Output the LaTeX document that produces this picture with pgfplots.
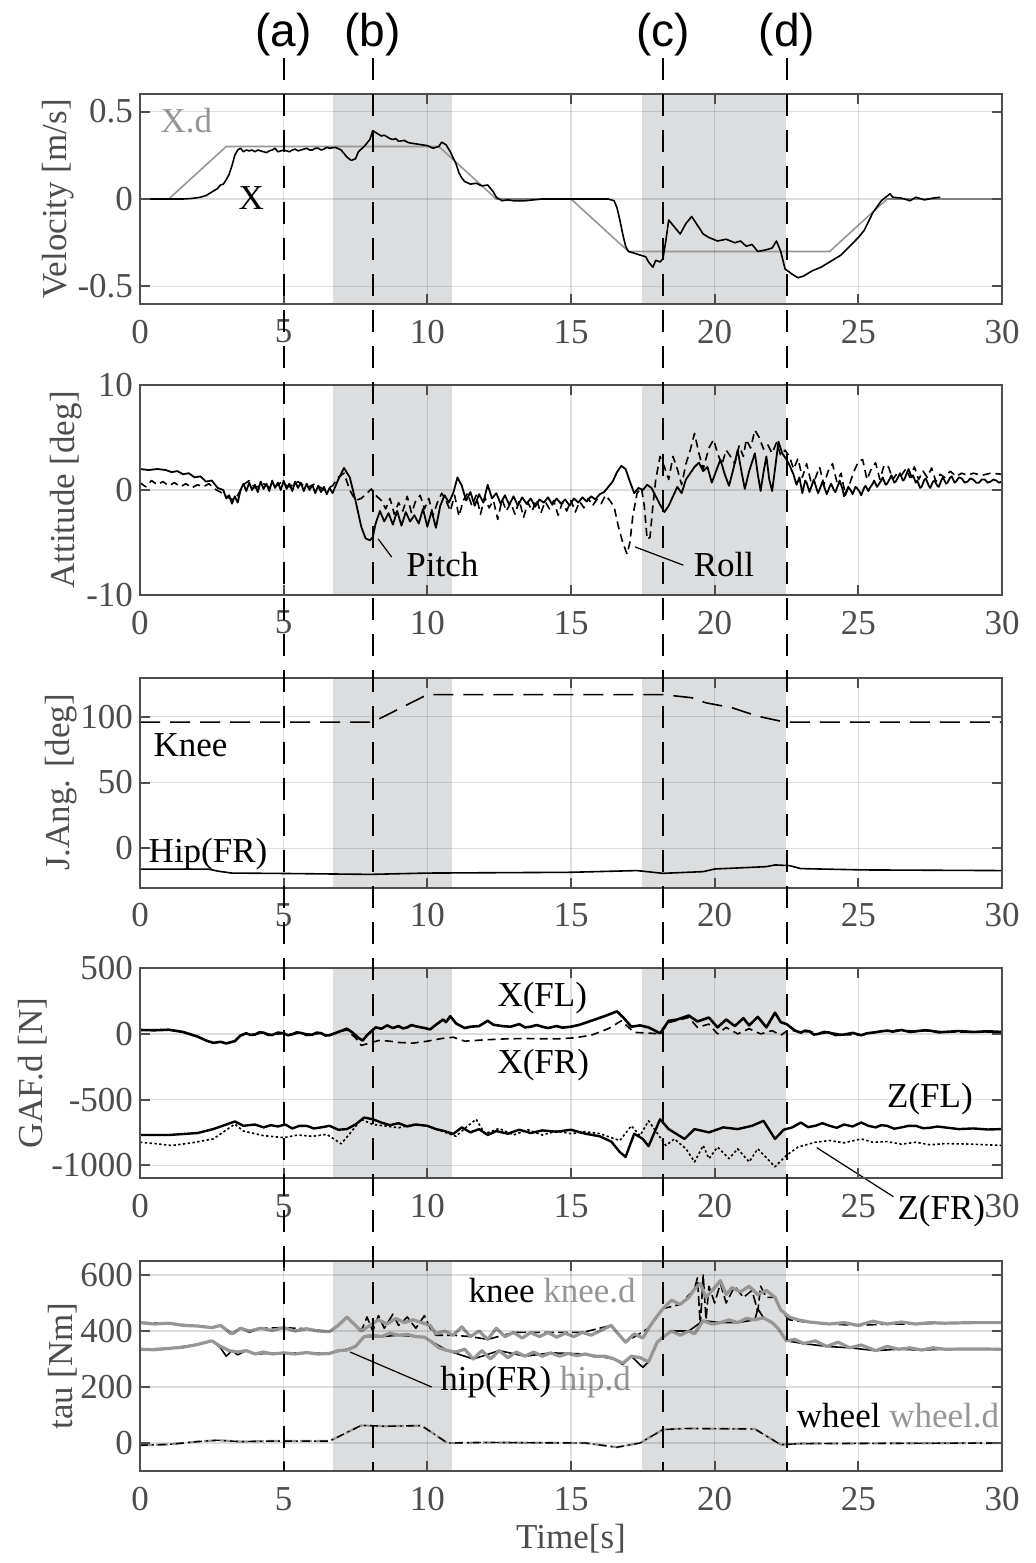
\documentclass[border=0pt]{standalone}
\usepackage{fontspec}
\setmainfont{Liberation Serif}
\newfontfamily\arialf{Liberation Sans}
\usepackage{pgfplots}
\pgfplotsset{compat=1.18}
\definecolor{axcol}{RGB}{77,77,77}
\definecolor{shadec}{RGB}{220,221,223}
\definecolor{lgray}{RGB}{150,150,150}
\newcommand{\fs}{\fontsize{17.5}{21}\selectfont}
\pgfplotsset{myax/.style={
 width=431pt, height=105pt, scale only axis, anchor=north west,
 xmin=0, xmax=30, xtick={0,5,...,30}, xticklabels={0,5,10,15,20,25,30},
 grid=major, major grid style={draw=black, opacity=0.13, line width=0.6pt},
 axis line style={draw=axcol, line width=1pt},
 tick style={draw=axcol, line width=1pt},
 major tick length=5pt, tick align=inside,
 tick label style={font=\fs, text=axcol},
 xticklabel style={yshift=-4.5pt},
 label style={font=\fs, text=axcol},
 ylabel shift=-5pt,
 axis on top, clip mode=individual,
 every axis plot/.append style={line join=round},
}}
\tikzset{dl/.style={black, line width=0.8pt},
ann/.style={font=\fs, text=black, inner sep=0pt}}
\begin{document}
\begin{tikzpicture}
\path[use as bounding box] (0,0) rectangle (517.5pt,-781.5pt);
% ---------------- Velocity
\begin{axis}[myax, at={(70pt,-47pt)}, ymin=-0.6, ymax=0.6, ytick={-0.5,0,0.5}, yticklabels={-0.5,0,0.5}, ylabel={Velocity [m/s]}]
\addplot[draw=none, fill=shadec, forget plot] coordinates {(6.72,-0.6)(6.72,0.6)(10.85,0.6)(10.85,-0.6)} -- cycle;
\addplot[draw=none, fill=shadec, forget plot] coordinates {(17.46,-0.6)(17.46,0.6)(22.47,0.6)(22.47,-0.6)} -- cycle;
\addplot[lgray, line width=0.8pt] coordinates {(0,0)(1,0)(3,0.3)(10.4,0.3)(12.4,0)(15,0)(17,-0.3)(24,-0.3)(26,0)(30,0)};
\addplot[dl] coordinates {(0,0)(1.5,0)(1.8,0.003)(2.1,0.01)(2.3,0.02)(2.5,0.04)(2.6,0.05)(2.7,0.06)(2.8,0.08)(2.9,0.085)(3.0,0.11)(3.1,0.14)(3.2,0.19)(3.3,0.25)(3.4,0.28)(3.5,0.29)(3.6,0.27)(3.7,0.28)(3.8,0.275)(3.9,0.28)(4.0,0.27)(4.1,0.28)(4.2,0.275)(4.3,0.27)(4.4,0.265)(4.5,0.275)(4.6,0.28)(4.7,0.29)(4.8,0.27)(4.9,0.275)(5.0,0.28)(5.1,0.275)(5.2,0.27)(5.3,0.28)(5.4,0.285)(5.5,0.275)(5.6,0.28)(5.7,0.285)(5.8,0.29)(5.9,0.28)(6.0,0.28)(6.1,0.29)(6.2,0.29)(6.3,0.28)(6.4,0.285)(6.5,0.295)(6.6,0.29)(6.8,0.295)(7.0,0.28)(7.2,0.24)(7.35,0.22)(7.5,0.23)(7.6,0.27)(7.8,0.30)(8.0,0.34)(8.1,0.39)(8.2,0.38)(8.3,0.37)(8.4,0.36)(8.5,0.365)(8.6,0.355)(8.7,0.345)(8.8,0.34)(8.9,0.345)(9.0,0.33)(9.2,0.335)(9.3,0.325)(9.4,0.32)(9.6,0.315)(9.8,0.31)(10.0,0.305)(10.2,0.29)(10.4,0.30)(10.5,0.325)(10.65,0.31)(10.8,0.27)(11.0,0.20)(11.1,0.15)(11.2,0.12)(11.3,0.10)(11.5,0.085)(11.7,0.09)(11.9,0.075)(12.1,0.08)(12.3,0.04)(12.4,0.01)(12.6,-0.01)(12.8,-0.005)(13.0,-0.01)(13.4,-0.01)(14,0)(16.3,0)(16.5,-0.01)(16.6,-0.05)(16.7,-0.12)(16.8,-0.2)(16.9,-0.27)(17.0,-0.3)(17.2,-0.31)(17.4,-0.32)(17.6,-0.33)(17.7,-0.36)(17.85,-0.39)(17.95,-0.35)(18.1,-0.36)(18.2,-0.34)(18.3,-0.24)(18.4,-0.12)(18.6,-0.16)(18.8,-0.2)(19.0,-0.14)(19.2,-0.1)(19.4,-0.15)(19.6,-0.2)(19.8,-0.22)(20.1,-0.24)(20.4,-0.23)(20.7,-0.25)(20.9,-0.24)(21.1,-0.27)(21.3,-0.26)(21.5,-0.3)(21.8,-0.29)(22.0,-0.28)(22.15,-0.24)(22.3,-0.3)(22.45,-0.4)(22.7,-0.43)(22.9,-0.45)(23.1,-0.44)(23.4,-0.41)(23.7,-0.39)(24.1,-0.35)(24.4,-0.32)(24.7,-0.27)(25.0,-0.22)(25.2,-0.18)(25.5,-0.08)(25.8,-0.01)(26.1,0.03)(26.2,0.01)(26.5,0.005)(26.8,-0.01)(27.0,0.01)(27.3,-0.005)(27.6,0.005)(27.85,0.01)};
\node[ann, text=lgray, anchor=base west] at (axis cs:0.70,0.378) {X.d};
\node[ann, anchor=base west] at (axis cs:3.42,-0.059) {X};
\coordinate (Ta) at (axis cs:5,0.6);
\coordinate (Tb) at (axis cs:8.1,0.6);
\coordinate (Tc) at (axis cs:18.2,0.6);
\coordinate (Td) at (axis cs:22.52,0.6);
\end{axis}
% ---------------- Attitude
\begin{axis}[myax, at={(70pt,-192.5pt)}, ymin=-10, ymax=10, ytick={-10,0,10}, yticklabels={-10,0,10}, ylabel={Attitude [deg]}]
\addplot[draw=none, fill=shadec, forget plot] coordinates {(6.72,-10)(6.72,10)(10.85,10)(10.85,-10)} -- cycle;
\addplot[draw=none, fill=shadec, forget plot] coordinates {(17.46,-10)(17.46,10)(22.47,10)(22.47,-10)} -- cycle;
\addplot[black, line width=0.8pt, dash pattern=on 4pt off 2.5pt] coordinates {(0,0.7)(0.2,0.3)(0.4,0.9)(0.6,0.5)(0.8,0.8)(1.0,0.4)(1.2,0.7)(1.4,0.3)(1.6,0.6)(1.8,0.2)(2.0,0.5)(2.2,0.3)(2.4,0.6)(2.6,0.1)(2.8,-0.2)(3.0,-0.6)(3.2,-0.9)(3.4,-0.5)(3.6,0.5)(3.8,0.9)(4.0,0.2)(4.3,0.6)(4.6,0.1)(4.9,0.7)(5.2,0.3)(5.5,0.8)(5.8,0.2)(6.1,0.6)(6.4,0.0)(6.7,0.4)(6.9,1.2)(7.1,1.6)(7.3,0.0)(7.5,-1.0)(7.7,-0.8)(7.9,-0.3)(8.05,0.1)(8.2,-0.5)(8.4,-1.0)(8.55,-1.8)(8.7,-0.8)(8.85,-2.3)(9.0,-1.2)(9.15,-2.0)(9.3,-0.6)(9.45,-2.2)(9.6,-1.0)(9.75,-0.5)(9.9,-1.8)(10.05,-0.8)(10.2,-2.4)(10.35,-1.2)(10.5,-0.3)(10.65,-1.0)(10.8,-2.0)(10.95,-0.5)(11.1,-2.5)(11.25,-1.0)(11.4,-0.3)(11.55,-1.5)(11.7,-0.5)(11.85,-2.3)(12.0,-0.7)(12.15,-1.7)(12.3,-1.0)(12.45,-2.8)(12.6,-0.9)(12.75,-2.0)(12.9,-1.2)(13.05,-2.3)(13.2,-1.0)(13.35,-2.6)(13.5,-1.2)(13.65,-2.0)(13.8,-0.9)(13.95,-2.2)(14.1,-1.1)(14.25,-1.8)(14.4,-1.0)(14.55,-2.4)(14.7,-1.2)(14.85,-2.0)(15.0,-1.0)(15.15,-2.1)(15.3,-1.1)(15.45,-1.7)(15.6,-0.8)(15.75,-1.5)(15.9,-0.9)(16.05,-1.3)(16.2,-0.5)(16.35,-1.0)(16.5,-1.6)(16.65,-3.5)(16.8,-5.0)(16.95,-6.1)(17.05,-5.0)(17.15,-2.5)(17.3,-0.3)(17.45,0.2)(17.55,-1.5)(17.65,-4.7)(17.75,-4.5)(17.85,-1.5)(17.95,1.0)(18.1,3.2)(18.25,2.2)(18.4,1.0)(18.55,3.2)(18.7,2.0)(18.85,0.5)(19.0,2.5)(19.15,3.8)(19.3,5.4)(19.45,3.5)(19.6,2.0)(19.8,4.0)(19.96,4.8)(20.1,3.5)(20.25,2.4)(20.4,3.8)(20.55,3.2)(20.7,2.5)(20.85,4.2)(21.0,3.2)(21.1,4.8)(21.25,4.0)(21.4,5.7)(21.55,5.0)(21.7,3.9)(21.85,4.3)(22.0,3.5)(22.15,4.5)(22.3,3.3)(22.45,3.8)(22.6,3.2)(22.75,2.0)(22.9,3.0)(23.05,1.2)(23.2,2.5)(23.35,0.8)(23.5,1.1)(23.65,2.2)(23.8,0.5)(23.95,1.8)(24.1,2.5)(24.25,0.8)(24.4,1.6)(24.55,-0.5)(24.7,0.6)(24.85,1.8)(25.0,2.7)(25.15,2.9)(25.3,1.0)(25.45,2.0)(25.6,2.6)(25.75,1.0)(25.9,2.4)(26.05,2.2)(26.2,1.0)(26.35,1.6)(26.5,1.4)(26.65,2.0)(26.8,1.2)(26.95,2.2)(27.1,1.0)(27.25,1.8)(27.4,1.2)(27.55,2.1)(27.7,0.8)(27.85,1.5)(28.0,1.2)(28.2,1.8)(28.4,1.3)(28.6,1.6)(28.8,1.4)(29.0,1.6)(29.3,1.4)(29.6,1.6)(30,1.5)};
\addplot[dl, line width=0.9pt] coordinates {(0,2.0)(0.3,1.9)(0.6,2.0)(0.9,1.9)(1.1,1.7)(1.3,1.8)(1.5,1.5)(1.7,1.6)(1.9,1.2)(2.1,1.3)(2.3,0.8)(2.5,0.9)(2.7,0.2)(2.9,0.0)(3.0,-0.8)(3.1,-0.5)(3.2,-1.3)(3.3,-0.6)(3.4,-1.2)(3.5,0.0)(3.6,0.6)(3.7,-0.1)(3.8,0.7)(3.9,0.0)(4.0,0.5)(4.1,-0.2)(4.2,0.8)(4.3,0.1)(4.4,0.6)(4.5,-0.1)(4.6,0.9)(4.7,0.2)(4.8,0.7)(4.9,0.0)(5.0,0.9)(5.1,0.1)(5.2,0.6)(5.3,-0.1)(5.4,0.8)(5.5,0.2)(5.6,0.7)(5.7,-0.1)(5.8,0.6)(5.9,0.0)(6.0,0.5)(6.1,-0.3)(6.2,0.4)(6.3,-0.2)(6.4,0.3)(6.5,-0.4)(6.6,0.2)(6.7,-0.3)(6.9,1.0)(7.1,2.1)(7.3,1.2)(7.5,-1.0)(7.7,-3.5)(7.85,-4.6)(8.0,-4.8)(8.1,-4.5)(8.2,-3.2)(8.35,-2.0)(8.5,-3.0)(8.65,-2.2)(8.8,-3.3)(8.95,-2.0)(9.1,-3.4)(9.25,-2.1)(9.4,-3.0)(9.55,-2.4)(9.7,-3.2)(9.85,-1.8)(10.0,-3.5)(10.15,-2.0)(10.3,-3.6)(10.45,-1.5)(10.6,-0.5)(10.75,-1.2)(10.9,-0.3)(11.05,1.2)(11.2,0.4)(11.35,-1.0)(11.5,-0.2)(11.65,-1.5)(11.8,-0.4)(11.95,-1.2)(12.1,0.5)(12.25,-0.8)(12.4,-0.3)(12.55,-1.3)(12.7,-0.5)(12.85,-1.4)(13.0,-0.6)(13.15,-1.5)(13.3,-0.7)(13.45,-1.3)(13.6,-0.8)(13.75,-1.6)(13.9,-0.9)(14.05,-1.2)(14.2,-0.7)(14.35,-1.4)(14.5,-0.8)(14.65,-1.3)(14.8,-0.9)(14.95,-1.5)(15.1,-0.8)(15.25,-1.2)(15.4,-0.7)(15.55,-1.1)(15.7,-0.6)(15.85,-0.9)(16.0,-0.4)(16.15,-0.2)(16.3,0.3)(16.45,0.8)(16.6,1.7)(16.75,2.3)(16.9,2.0)(17.05,0.8)(17.2,-0.3)(17.35,0.2)(17.5,0.0)(17.65,0.5)(17.8,0.2)(17.95,-0.6)(18.1,-1.4)(18.25,-2.1)(18.4,-1.5)(18.55,-0.6)(18.7,0.3)(18.85,-0.3)(19.0,1.0)(19.15,1.6)(19.3,2.2)(19.45,2.6)(19.6,1.8)(19.75,2.2)(19.9,0.7)(20.05,1.8)(20.2,2.9)(20.35,1.5)(20.5,0.4)(20.65,2.0)(20.8,3.8)(20.95,1.5)(21.05,0.1)(21.2,1.8)(21.4,3.5)(21.5,1.5)(21.6,-0.1)(21.7,1.7)(21.8,3.2)(21.9,1.0)(22.0,-0.1)(22.1,2.0)(22.22,4.6)(22.35,3.5)(22.5,2.9)(22.6,2.4)(22.74,1.5)(22.85,0.5)(22.95,1.2)(23.05,-0.3)(23.15,0.9)(23.2,0.7)(23.3,-0.2)(23.4,0.6)(23.45,1.0)(23.55,0.1)(23.6,-0.3)(23.7,0.4)(23.75,0.8)(23.85,0.0)(23.9,-0.4)(24.0,0.3)(24.05,0.6)(24.15,0.0)(24.2,-0.2)(24.3,0.5)(24.35,0.9)(24.45,0.1)(24.5,-0.6)(24.6,0.0)(24.65,0.3)(24.75,-0.1)(24.8,-0.4)(24.9,0.3)(24.95,0.2)(25.05,-0.2)(25.1,-0.5)(25.2,0.2)(25.25,0.4)(25.35,-0.1)(25.4,0.2)(25.5,0.6)(25.55,0.9)(25.65,0.3)(25.7,0.5)(25.8,0.9)(25.85,1.2)(25.95,0.5)(26.0,0.6)(26.1,1.1)(26.15,1.4)(26.25,0.7)(26.3,0.8)(26.4,1.3)(26.45,1.6)(26.55,0.9)(26.6,1.0)(26.7,1.7)(26.75,2.0)(26.85,1.2)(26.9,1.4)(27.0,0.7)(27.05,0.9)(27.15,0.2)(27.2,0.3)(27.3,1.0)(27.35,1.1)(27.45,0.4)(27.5,0.2)(27.6,0.8)(27.65,0.9)(27.75,0.4)(27.8,0.3)(27.9,1.0)(27.95,1.2)(28.05,0.6)(28.1,0.7)(28.2,1.2)(28.25,1.3)(28.35,0.7)(28.4,0.8)(28.5,1.2)(28.6,1.1)(28.7,0.7)(28.8,0.8)(28.9,1.1)(29.0,1.0)(29.1,0.7)(29.2,0.7)(29.3,1.0)(29.4,1.0)(29.5,0.7)(29.6,0.8)(29.7,1.0)(29.8,0.9)(29.9,0.7)(30,0.8)};
\draw[black, line width=0.6pt] (axis cs:8.29,-4.66) -- (axis cs:8.76,-6.39);
\draw[black, line width=0.6pt] (axis cs:17.23,-5.42) -- (axis cs:18.91,-7.16);
\node[ann, anchor=base west] at (axis cs:9.26,-8.28) {Pitch};
\node[ann, anchor=base west] at (axis cs:19.26,-8.28) {Roll};
\end{axis}
% ---------------- J.Ang
\begin{axis}[myax, at={(70pt,-338.75pt)}, ymin=-30, ymax=130, ytick={0,50,100}, yticklabels={0,50,100}, ylabel={J.Ang. [deg]}]
\addplot[draw=none, fill=shadec, forget plot] coordinates {(6.72,-30)(6.72,130)(10.85,130)(10.85,-30)} -- cycle;
\addplot[draw=none, fill=shadec, forget plot] coordinates {(17.46,-30)(17.46,130)(22.47,130)(22.47,-30)} -- cycle;
\addplot[black, line width=0.8pt, dash pattern=on 10pt off 5pt] coordinates {(0,96)(8.1,96)(10,117)(18.2,117)(19.2,114.6)(19.7,110.7)(20.6,107)(21.5,100.5)(22.3,96.7)(22.5,96)(30,96)};
\addplot[dl] coordinates {(0,-16)(2.4,-16)(2.7,-17.5)(3.2,-19)(5,-19.3)(8,-20)(10,-19)(15,-18.4)(17.3,-17.1)(18.2,-19.2)(19.6,-17.9)(20,-15.9)(21.8,-14.1)(22.1,-12.8)(22.6,-13.3)(23,-15.6)(25.2,-16.6)(30,-17.1)};
\node[ann, anchor=base west] at (axis cs:0.46,69.8) {Knee};
\node[ann, anchor=base west] at (axis cs:0.29,-10.7) {Hip(FR)};
\end{axis}
% ---------------- GAF
\begin{axis}[myax, at={(70pt,-484.15pt)}, ymin=-1100, ymax=500, ytick={-1000,-500,0,500}, yticklabels={-1000,-500,0,500}, ylabel={GAF.d [N]}]
\addplot[draw=none, fill=shadec, forget plot] coordinates {(6.72,-1100)(6.72,500)(10.85,500)(10.85,-1100)} -- cycle;
\addplot[draw=none, fill=shadec, forget plot] coordinates {(17.46,-1100)(17.46,500)(22.47,500)(22.47,-1100)} -- cycle;
\addplot[black, line width=0.8pt, dash pattern=on 4pt off 2.5pt] coordinates {(0,30)(0.5,28)(1.0,32)(1.5,15)(2.0,-20)(2.3,-50)(2.55,-68)(2.8,-60)(3.0,-72)(3.3,-55)(3.5,-12)(3.7,5)(4.0,-5)(4.3,10)(4.6,-8)(5.0,5)(5.3,-3)(5.6,8)(6.0,-5)(6.3,6)(6.6,-10)(6.9,15)(7.2,30)(7.5,-30)(7.7,-87)(8.0,-70)(8.3,-50)(8.7,-55)(9.0,-65)(9.5,-70)(10.0,-55)(10.5,-35)(10.9,-25)(11.3,-55)(12.0,-45)(12.8,-37)(13.5,-35)(14.5,-38)(15.1,-30)(15.7,-10)(16.3,40)(16.75,100)(17.2,12)(17.8,5)(18.1,0)(18.4,87)(19.1,125)(19.4,50)(19.8,75)(20.1,0)(20.4,50)(20.8,0)(21.2,40)(21.6,0)(22.0,25)(22.3,-10)(22.5,20)(22.8,25)(23.0,10)(23.3,20)(23.6,0)(24.0,10)(24.5,-5)(25.1,-10)(25.5,10)(26.0,25)(26.5,30)(27.0,20)(27.5,25)(28.0,15)(29.0,15)(30,15)};
\addplot[dl, line width=1.3pt] coordinates {(0,30)(0.5,28)(1.0,32)(1.5,15)(2.0,-20)(2.3,-50)(2.55,-68)(2.8,-60)(3.0,-72)(3.3,-55)(3.5,-12)(3.7,5)(3.85,-8)(4.0,-5)(4.15,12)(4.3,10)(4.45,-6)(4.6,-8)(4.8,10)(5.0,5)(5.15,-10)(5.3,-3)(5.45,12)(5.6,8)(5.8,-8)(6.0,-5)(6.15,10)(6.3,6)(6.45,-12)(6.6,-10)(6.9,15)(7.2,40)(7.4,10)(7.6,-30)(7.75,-50)(7.9,-10)(8.2,50)(8.4,40)(8.6,65)(8.8,45)(9.0,60)(9.15,42)(9.3,50)(9.45,68)(9.6,58)(9.9,45)(10.1,35)(10.3,70)(10.55,110)(10.65,90)(10.8,135)(11.0,80)(11.3,45)(11.5,55)(11.8,60)(12.1,100)(12.3,70)(12.6,60)(12.9,55)(13.2,75)(13.4,50)(13.6,55)(13.8,68)(14.0,55)(14.2,45)(14.5,60)(14.7,48)(15.0,55)(15.3,70)(15.7,100)(16.1,130)(16.4,155)(16.6,172)(16.8,130)(17.1,55)(17.4,65)(17.7,50)(18.1,5)(18.4,100)(18.7,110)(19.1,140)(19.4,95)(19.8,125)(20.1,50)(20.4,110)(20.7,60)(21.0,120)(21.2,65)(21.5,130)(21.8,50)(22.1,162)(22.3,90)(22.5,75)(22.8,25)(23.0,10)(23.15,25)(23.3,20)(23.45,-5)(23.6,0)(23.8,15)(24.0,10)(24.2,-8)(24.5,-5)(24.8,8)(25.1,-10)(25.3,5)(25.5,10)(25.8,20)(26.0,25)(26.2,18)(26.5,30)(26.8,15)(27.0,20)(27.3,28)(27.5,25)(27.8,12)(28.0,15)(28.5,22)(29.0,15)(29.5,20)(30,15)};
\addplot[black, line width=0.8pt, dash pattern=on 1.2pt off 1.2pt] coordinates {(0,-825)(0.5,-835)(1.1,-850)(1.8,-830)(2.55,-800)(3.3,-687)(3.6,-740)(4.3,-775)(5.0,-790)(5.5,-770)(6.0,-780)(6.5,-765)(7.0,-837)(7.3,-760)(7.7,-650)(8.1,-690)(8.5,-700)(9.0,-715)(9.5,-690)(10.0,-700)(10.5,-740)(11.0,-780)(11.3,-720)(11.7,-650)(12.0,-760)(12.5,-720)(13.0,-770)(13.5,-730)(14.0,-770)(14.5,-740)(15.0,-760)(15.5,-745)(16.0,-760)(16.7,-812)(17.1,-700)(17.4,-775)(17.7,-662)(18.3,-850)(18.6,-800)(19.0,-875)(19.3,-975)(19.6,-850)(19.8,-950)(20.1,-862)(20.5,-950)(20.8,-875)(21.2,-975)(21.5,-875)(22.1,-1012)(22.5,-925)(22.9,-862)(23.5,-825)(24.0,-812)(24.5,-830)(25.1,-800)(25.5,-825)(26.0,-820)(26.5,-840)(27.0,-825)(27.5,-845)(28.0,-835)(29.0,-840)(30,-850)};
\addplot[dl, line width=1.2pt] coordinates {(0,-770)(1,-770)(2,-755)(2.55,-725)(3.3,-667)(3.6,-700)(4.0,-690)(4.3,-712)(4.55,-695)(4.8,-705)(5.05,-690)(5.3,-720)(5.55,-700)(5.8,-700)(6.05,-720)(6.3,-712)(6.6,-700)(6.9,-730)(7.2,-725)(7.5,-690)(7.8,-637)(8.1,-650)(8.4,-675)(8.7,-695)(9.0,-680)(9.3,-705)(9.6,-690)(10.0,-700)(10.3,-725)(10.6,-740)(10.9,-762)(11.2,-712)(11.5,-750)(11.8,-725)(12.1,-770)(12.4,-740)(12.8,-760)(13.2,-730)(13.6,-755)(14.0,-735)(14.5,-745)(15.0,-730)(15.5,-760)(16.0,-780)(16.4,-820)(16.7,-900)(16.9,-937)(17.2,-760)(17.5,-800)(17.7,-855)(18.1,-650)(18.4,-725)(18.95,-800)(19.3,-725)(19.8,-750)(20.3,-712)(20.8,-725)(21.3,-700)(21.7,-662)(22.1,-800)(22.4,-730)(22.7,-712)(23.0,-675)(23.25,-710)(23.5,-700)(23.75,-680)(24.0,-700)(24.25,-715)(24.5,-690)(24.8,-705)(25.1,-675)(25.35,-700)(25.6,-712)(25.8,-695)(26.0,-700)(26.25,-722)(26.5,-712)(26.75,-700)(27.0,-700)(27.25,-718)(27.5,-715)(27.75,-705)(28.0,-712)(28.5,-725)(29.0,-720)(29.5,-728)(30,-725)};
\draw[black, line width=0.6pt] (axis cs:23.55,-866) -- (axis cs:26.22,-1240);
\node[ann, anchor=base west] at (axis cs:12.43,211) {X(FL)};
\node[ann, anchor=base west] at (axis cs:12.43,-299) {X(FR)};
\node[ann, anchor=base west] at (axis cs:25.99,-560) {Z(FL)};
\node[ann, anchor=base west] at (axis cs:26.35,-1410) {Z(FR)};
\end{axis}
% ---------------- tau
\begin{axis}[myax, at={(70pt,-630.5pt)}, ymin=-100, ymax=650, ytick={0,200,400,600}, yticklabels={0,200,400,600}, ylabel={tau [Nm]}, xlabel={Time[s]}]
\addplot[draw=none, fill=shadec, forget plot] coordinates {(6.72,-100)(6.72,650)(10.85,650)(10.85,-100)} -- cycle;
\addplot[draw=none, fill=shadec, forget plot] coordinates {(17.46,-100)(17.46,650)(22.47,650)(22.47,-100)} -- cycle;
\addplot[black, line width=0.8pt, dash pattern=on 5pt off 2pt] coordinates {(0,430)(1.0,428)(2.0,418)(2.5,412)(2.8,420)(3.2,385)(3.5,410)(3.8,395)(4.2,410)(5.0,412)(5.8,408)(6.6,398)(7.2,450)(7.7,400)(7.9,450)(8.1,400)(8.3,455)(8.5,410)(8.8,460)(9.0,420)(9.3,450)(9.6,410)(9.9,455)(10.1,410)(10.3,385)(10.9,385)(11.5,380)(12.1,370)(13.0,395)(14.2,395)(15.4,395)(16.4,420)(16.9,360)(17.7,410)(18.2,480)(18.8,495)(19.3,550)(19.4,590)(19.5,420)(19.6,600)(19.7,440)(19.8,560)(20.0,500)(20.2,570)(20.4,500)(20.7,560)(21.0,520)(21.3,545)(21.5,470)(21.6,560)(21.8,520)(22.1,520)(22.3,475)(22.6,440)(23.3,430)(24.0,425)(25.0,420)(26.0,425)(27.0,425)(28.0,428)(30,430)};
\addplot[dl] coordinates {(0,335)(1.0,338)(2.0,352)(2.5,365)(2.8,340)(3.0,310)(3.2,330)(3.4,315)(3.7,330)(4.0,318)(5.0,322)(6.6,320)(7.2,335)(7.5,345)(7.8,380)(8.4,380)(9.0,385)(9.9,378)(10.1,365)(10.7,330)(11.6,300)(12.5,330)(13.4,310)(14.3,322)(15.5,318)(16.5,300)(16.8,280)(17.1,310)(17.5,270)(17.7,290)(18.0,360)(18.2,378)(18.5,400)(19.1,400)(19.6,437)(20.2,430)(20.8,430)(21.4,440)(21.5,480)(21.7,447)(22.0,430)(22.2,410)(22.5,365)(23.1,355)(23.9,345)(24.7,340)(25.6,330)(26.4,335)(27.2,332)(28.0,335)(30,335)};
\addplot[lgray, line width=1.6pt] coordinates {(0,430)(0.5,425)(1.0,428)(1.5,420)(2.0,418)(2.5,412)(2.8,420)(3.2,390)(3.5,410)(3.8,400)(4.2,410)(4.6,402)(5.0,412)(5.4,400)(5.8,408)(6.2,400)(6.6,398)(6.9,420)(7.2,450)(7.5,420)(7.7,400)(8.0,420)(8.3,440)(8.6,425)(8.9,445)(9.2,430)(9.5,440)(9.8,430)(10.1,420)(10.3,390)(10.6,400)(10.9,385)(11.2,415)(11.5,380)(11.8,400)(12.1,370)(12.4,410)(12.7,380)(13.0,395)(13.3,375)(13.6,395)(13.9,380)(14.2,395)(14.5,378)(14.8,392)(15.1,380)(15.4,395)(15.7,385)(16.0,400)(16.4,420)(16.6,395)(16.9,360)(17.2,390)(17.5,375)(17.7,410)(17.9,440)(18.2,480)(18.5,510)(18.8,495)(19.1,520)(19.3,550)(19.5,570)(19.7,520)(20.0,555)(20.2,580)(20.4,530)(20.6,555)(20.9,540)(21.2,560)(21.5,530)(21.8,545)(22.1,520)(22.3,475)(22.6,450)(22.9,440)(23.3,432)(24.0,425)(24.5,430)(25.0,420)(25.5,435)(26.0,425)(26.5,432)(27.0,425)(27.5,430)(28.0,428)(29.0,430)(30,430)};
\addplot[lgray, line width=1.6pt] coordinates {(0,335)(0.5,333)(1.0,338)(1.5,342)(2.0,352)(2.5,365)(2.8,345)(3.1,330)(3.4,325)(3.7,330)(4.0,318)(4.3,325)(4.6,318)(5.0,322)(5.4,318)(5.8,323)(6.2,318)(6.6,320)(6.9,330)(7.2,332)(7.5,345)(7.8,380)(8.1,385)(8.4,380)(8.7,392)(9.0,385)(9.3,388)(9.6,380)(9.9,378)(10.1,365)(10.4,340)(10.7,330)(11.0,325)(11.3,335)(11.6,300)(11.9,330)(12.2,300)(12.5,330)(12.8,305)(13.1,325)(13.4,310)(13.7,325)(14.0,310)(14.3,322)(14.6,310)(14.9,320)(15.2,312)(15.5,318)(15.8,310)(16.2,310)(16.5,300)(16.8,285)(17.1,310)(17.4,305)(17.7,290)(18.0,360)(18.2,378)(18.5,400)(18.8,385)(19.1,400)(19.3,390)(19.6,437)(19.9,425)(20.2,430)(20.5,440)(20.8,430)(21.1,445)(21.4,440)(21.7,447)(22.0,430)(22.2,410)(22.5,365)(22.8,370)(23.1,355)(23.5,365)(23.9,345)(24.3,360)(24.7,340)(25.1,350)(25.6,330)(26.0,345)(26.4,335)(26.8,340)(27.2,332)(27.6,340)(28.0,335)(29.0,336)(30,335)};
\addplot[lgray, line width=1.1pt, dash pattern=on 6pt off 2pt] coordinates {(0,-8)(1,-5)(2,5)(2.7,10)(3.5,5)(4.5,7)(6.6,7)(7.7,63)(8.5,60)(9.8,62)(10.7,0)(12,2)(15.5,0)(16.6,-15)(17.4,0)(18.2,48)(19,52)(21.4,50)(22.3,-6)(23,-2)(30,0)};
\addplot[black, line width=0.7pt, dash pattern=on 4pt off 2pt on 1pt off 2pt] coordinates {(0,-8)(1,-5)(2,5)(2.7,10)(3.5,5)(4.5,7)(6.6,7)(7.7,63)(8.5,60)(9.8,62)(10.7,0)(12,2)(15.5,0)(16.6,-15)(17.4,0)(18.2,48)(19,52)(21.4,50)(22.3,-6)(23,-2)(30,0)};
\draw[black, line width=0.6pt] (axis cs:7.31,325) -- (axis cs:10.15,200);
\node[ann, anchor=base west] at (axis cs:11.42,503) {knee \textcolor{lgray}{knee.d}};
\node[ann, anchor=base west] at (axis cs:10.44,188) {hip(FR) \textcolor{lgray}{hip.d}};
\node[ann, anchor=base west] at (axis cs:22.85,55) {wheel \textcolor{lgray}{wheel.d}};
\coordinate (Ba) at (axis cs:5,-100);
\coordinate (Bb) at (axis cs:8.1,-100);
\coordinate (Bc) at (axis cs:18.2,-100);
\coordinate (Bd) at (axis cs:22.52,-100);
\end{axis}
% ---------------- event lines
\foreach \k in {a,b,c,d}{
  \draw[black, line width=1pt, dash pattern=on 11pt off 7pt] ([yshift=18pt]T\k) -- (B\k);
  \node[font=\arialf\fontsize{23}{27}\selectfont, text=black, inner sep=0pt] at ([yshift=29.5pt]T\k) {(\k)};
}
\end{tikzpicture}
\end{document}
